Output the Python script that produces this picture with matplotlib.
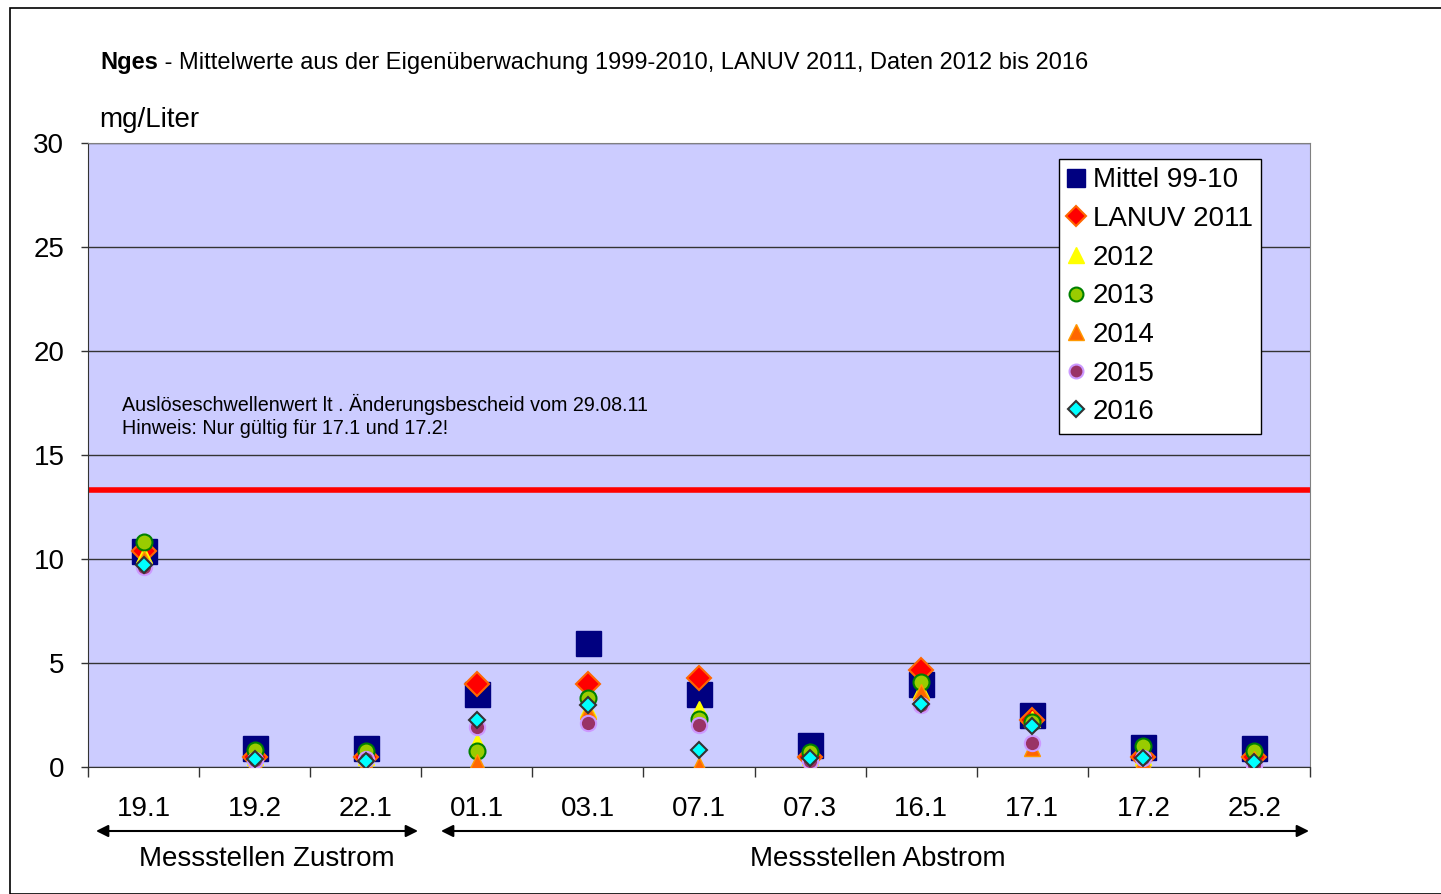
import matplotlib
matplotlib.use("Agg")
import matplotlib.pyplot as plt
from matplotlib.patches import Rectangle, FancyArrowPatch
import numpy as np

plt.rcParams['font.family'] = ['Liberation Sans', 'DejaVu Sans']

# Messstellen
stellen = ["19.1", "19.2", "22.1", "01.1", "03.1", "07.1", "07.3", "16.1", "17.1", "17.2", "25.2"]

# Nges in mg/Liter
mittel_99_10 = [10.4, 0.9, 0.9, 3.5, 5.95, 3.5, 1.05, 4.0, 2.5, 0.95, 0.9]
lanuv_2011   = [10.4, 0.5, 0.5, 4.0, 4.0, 4.3, 0.5, 4.65, 2.25, 0.5, 0.5]
y2012        = [10.2, 0.5, 0.5, 1.2, 2.8, 2.8, 0.5, 3.7, 2.3, 0.5, 0.5]
y2013        = [10.8, 0.8, 0.75, 0.75, 3.3, 2.3, 0.7, 4.1, 2.15, 1.0, 0.75]
y2014        = [10.0, 0.2, 0.15, 0.25, 2.7, 0.1, 0.2, 3.6, 0.9, 0.3, 0.4]
y2015        = [9.6, 0.35, 0.4, 1.9, 2.1, 2.0, 0.3, 3.0, 1.15, 0.45, 0.1]
y2016        = [9.7, 0.4, 0.3, 2.25, 3.0, 0.8, 0.45, 3.05, 1.95, 0.45, 0.25]

schwelle = 13.3

fig = plt.figure(figsize=(14.41, 8.94), dpi=100)
W, H = 1441, 894

def fx(px):
    return px / W

def fy(py):
    return 1 - py / H

# aeusserer Rahmen
fig.patches.append(Rectangle((fx(10), 0), 1.0, fy(8), transform=fig.transFigure,
                             fill=False, edgecolor='black', linewidth=1.2))

ax = fig.add_axes([fx(88), fy(767), fx(1310) - fx(88), fy(143) - fy(767)])
ax.set_facecolor('#CCCCFF')

x = np.arange(len(stellen))

ax.plot(x, mittel_99_10, 's', ms=18, color='#000080', mec='#000080', label='Mittel 99-10', zorder=3)
ax.plot(x, lanuv_2011, 'D', ms=12.5, color='#FF0000', mec='#FF6600', mew=1.5, label='LANUV 2011', zorder=4)
ax.plot(x, y2012, '^', ms=12, color='#FFFF00', mec='#FFFF00', label='2012', zorder=5)
ax.plot(x, y2013, 'o', ms=11.5, color='#99CC00', mec='#008000', mew=1.5, label='2013', zorder=6)
ax.plot(x, y2014, '^', ms=12, color='#FF6600', mec='#FF9900', label='2014', zorder=7)
ax.plot(x, y2015, 'o', ms=11, color='#993366', mec='#CC99FF', mew=1.5, label='2015', zorder=8)
ax.plot(x, y2016, 'D', ms=8, color='#00FFFF', mec='#333333', mew=1.5, label='2016', zorder=9)

ax.axhline(schwelle, color='#FF0000', linewidth=4, zorder=2)

ax.set_xlim(-0.5, len(stellen) - 0.5)
ax.set_ylim(0, 30)
ax.set_yticks([0, 5, 10, 15, 20, 25, 30])
ax.yaxis.grid(True, color='#333333', linewidth=1)
ax.set_axisbelow(True)

ax.set_xticks(x)
ax.set_xticklabels(stellen)
ax.set_xticks(np.arange(-0.5, len(stellen)), minor=True)
ax.tick_params(axis='x', which='major', length=0, pad=21, labelsize=20)
ax.tick_params(axis='x', which='minor', length=7, width=1, color='#333333')
ax.tick_params(axis='y', length=5, width=1, pad=12, labelsize=20, color='#333333')

for s in ax.spines.values():
    s.set_color('#808080')
ax.spines['left'].set_color('#333333')
ax.spines['bottom'].set_color('#333333')

leg = ax.legend(loc='upper right', bbox_to_anchor=(fx(1261), fy(159)), bbox_transform=fig.transFigure,
                borderaxespad=0, fontsize=20, frameon=True, fancybox=False, edgecolor='black',
                framealpha=1, handlelength=0.6, handletextpad=0.3, labelspacing=0.455,
                borderpad=0.3)
leg.get_frame().set_linewidth(1)
for h, ms in zip(leg.legend_handles, [13, 10, 11, 10, 11, 10, 8]):
    h.set_markersize(ms)

# Titel
t = fig.text(fx(100), fy(62), "Nges", fontsize=17, fontweight='bold', va='center', ha='left')
ax.annotate(" - Mittelwerte aus der Eigenüberwachung 1999-2010, LANUV 2011, Daten 2012 bis 2016",
            xy=(1, 0), xycoords=t, va='bottom', ha='left', fontsize=17, annotation_clip=False)

fig.text(fx(99), fy(120), "mg/Liter", fontsize=20, va='center', ha='left')

fig.text(fx(122), fy(404), "Auslöseschwellenwert lt . Änderungsbescheid vom 29.08.11",
         fontsize=14.2, va='center', ha='left')
fig.text(fx(122), fy(428), "Hinweis: Nur gültig für 17.1 und 17.2!",
         fontsize=14.2, va='center', ha='left')

# Pfeile unter der Achse
arrow = dict(arrowstyle='<|-|>', color='black', linewidth=1.5, mutation_scale=18, shrinkA=0, shrinkB=0)
fig.add_artist(FancyArrowPatch((fx(96), fy(831)), (fx(418), fy(831)),
                               transform=fig.transFigure, **arrow))
fig.add_artist(FancyArrowPatch((fx(441), fy(831)), (fx(1309), fy(831)),
                               transform=fig.transFigure, **arrow))

fig.text(fx(267), fy(859), "Messstellen Zustrom", fontsize=20, va='center', ha='center')
fig.text(fx(878), fy(859), "Messstellen Abstrom", fontsize=20, va='center', ha='center')

fig.savefig("out.png", dpi=100)
